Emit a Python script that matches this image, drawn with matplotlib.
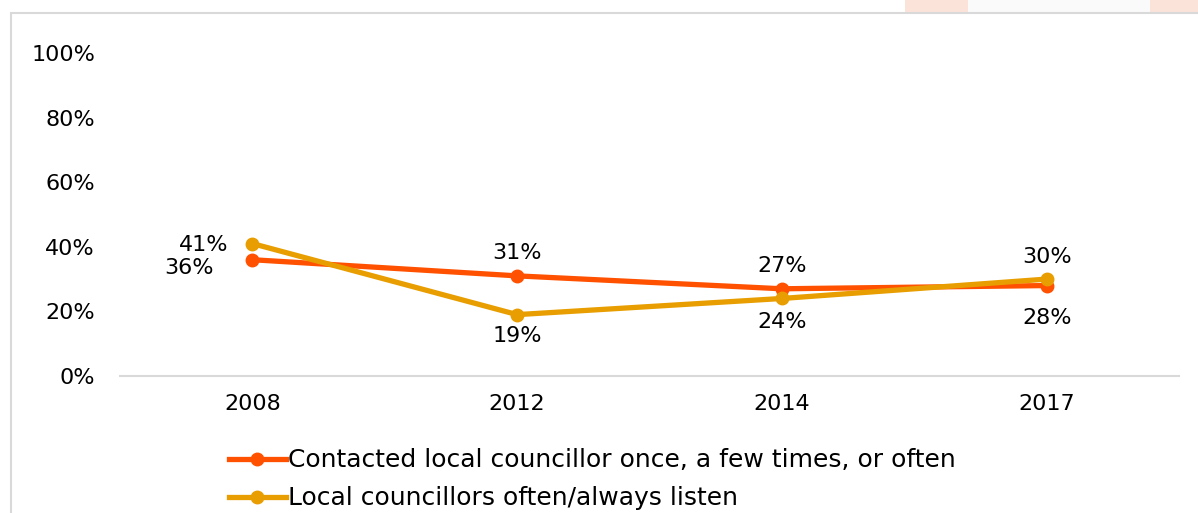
import matplotlib.pyplot as plt
from matplotlib.patches import Rectangle

anos = ["2008", "2012", "2014", "2017"]
contactou = [0.36, 0.31, 0.27, 0.28]
escutam = [0.41, 0.19, 0.24, 0.30]
nome_contactou = "Contacted local councillor once, a few times, or often"
nome_escutam = "Local councillors often/always listen"

cor_laranja = "#FF5100"
cor_dourado = "#E89E00"

plt.rcParams['font.family'] = ['DejaVu Sans']

fig = plt.figure(figsize=(11.98, 5.13), dpi=100)
W, H = 1198, 513

# moldura cinza clara
fig.patches.append(Rectangle((11 / W, -0.1), 1.2, 1 - 13 / H + 0.1, transform=fig.transFigure,
                             fill=False, edgecolor="#D9D9D9", linewidth=1.5, zorder=2))
# marca d'agua apagada no topo
for x0, x1, cor in [(905, 968, "#FBE3DA"), (968, 1150, "#FAFAFA"), (1150, 1198, "#FBE3DA")]:
    fig.patches.append(Rectangle((x0 / W, 1 - 13 / H), (x1 - x0) / W, 13 / H,
                                 transform=fig.transFigure, facecolor=cor,
                                 edgecolor="none", zorder=1))

ax = fig.add_axes([120 / W, 1 - 376 / H, (1179 - 120) / W, (376 - 53) / H])
x = range(len(anos))
ax.plot(x, contactou, color=cor_laranja, linewidth=3.8, marker="o", markersize=9,
        label=nome_contactou, zorder=3)
ax.plot(x, escutam, color=cor_dourado, linewidth=3.8, marker="o", markersize=9,
        label=nome_escutam, zorder=4)

ax.set_xlim(-0.5, len(anos) - 0.5)
ax.set_ylim(0, 1)
ax.set_xticks(list(x))
ax.set_xticklabels(anos)
ax.set_yticks([0, 0.2, 0.4, 0.6, 0.8, 1.0])
ax.set_yticklabels(["0%", "20%", "40%", "60%", "80%", "100%"])
ax.tick_params(axis="both", length=0, labelsize=16, colors="#000000")
ax.tick_params(axis="y", pad=18)
ax.tick_params(axis="x", pad=13)
for lado in ["top", "right", "left"]:
    ax.spines[lado].set_visible(False)
ax.spines["bottom"].set_color("#D9D9D9")
ax.spines["bottom"].set_linewidth(1.5)
ax.patch.set_alpha(0)

# rotulos de dados
pos_contactou = [("left", (-28, -6)), ("above", (0, 9)), ("above", (0, 9)), ("below", (0, -16))]
pos_escutam = [("left", (-17, -1)), ("below", (0, -8)), ("below", (0, -10)), ("above", (0, 9))]

def rotular(valores, posicoes):
    for i, (v, (tipo, desloc)) in enumerate(zip(valores, posicoes)):
        ha = "right" if tipo == "left" else "center"
        va = {"left": "center", "above": "bottom", "below": "top"}[tipo]
        ax.annotate(f"{round(v * 100)}%", (i, v), xytext=desloc, textcoords="offset points",
                    ha=ha, va=va, fontsize=16, color="#000000", zorder=5)

rotular(contactou, pos_contactou)
rotular(escutam, pos_escutam)

fig.legend(loc="upper left", bbox_to_anchor=(216 / W, 1 - 436 / H), frameon=False,
           fontsize=18, handlelength=2.3, handletextpad=0.1, labelspacing=0.55,
           borderpad=0)

fig.savefig("out.png", dpi=100)
